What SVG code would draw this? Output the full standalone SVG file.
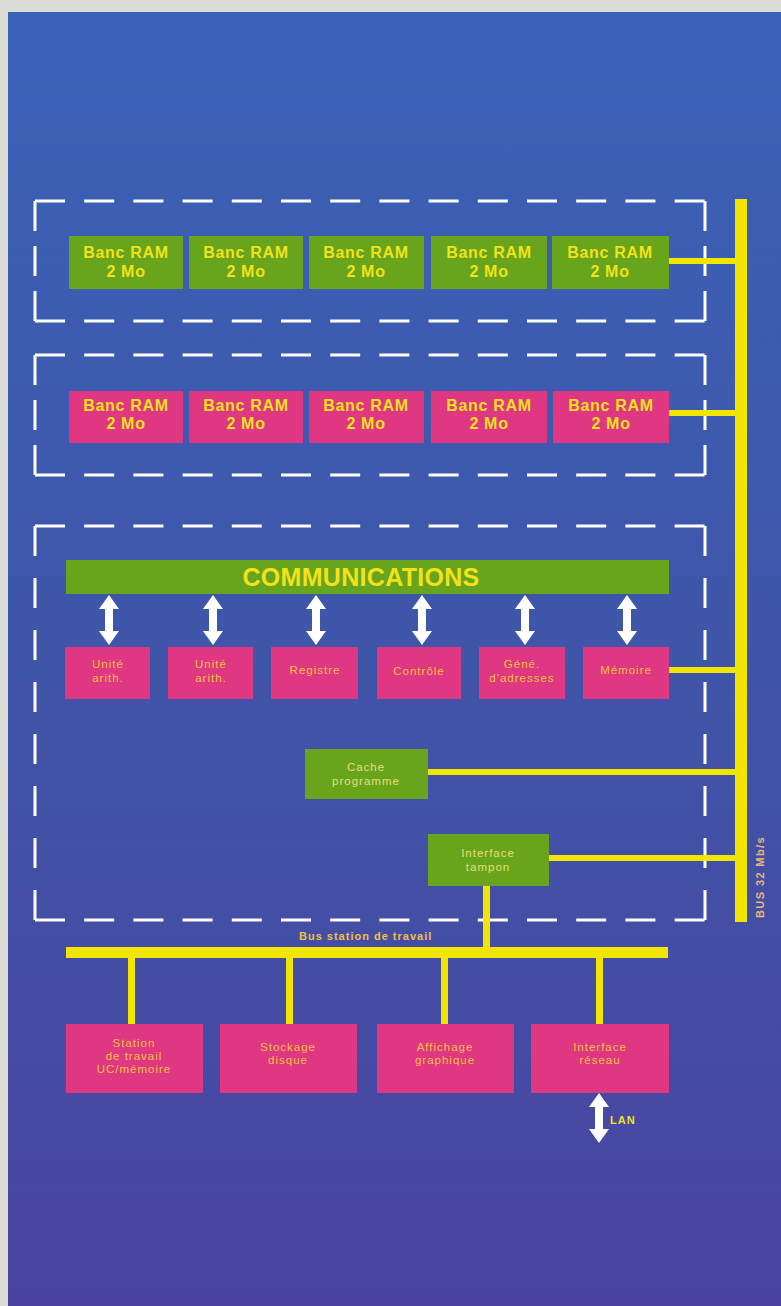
<svg xmlns="http://www.w3.org/2000/svg" xmlns:xlink="http://www.w3.org/1999/xlink" width="781" height="1306" viewBox="0 0 781 1306">
<defs>
<linearGradient id="bg" x1="0" y1="0" x2="0" y2="1">
<stop offset="0" stop-color="#3a62b7"/>
<stop offset="0.5" stop-color="#3f55a9"/>
<stop offset="1" stop-color="#4a44a0"/>
</linearGradient>
<path id="dArrow" d="M0,0 L10,14 L4,14 L4,36 L10,36 L0,50 L-10,36 L-4,36 L-4,14 L-10,14 Z" fill="#ffffff"/>
<style>
.green{fill:#68a41c}
.pink{fill:#df3782}
.bus{fill:#f2e600}
.dash{stroke:#ffffff;stroke-width:3;fill:none}
.big{font-family:"Liberation Sans",Arial,sans-serif;font-weight:bold;font-size:16px;fill:#f2e21a;text-anchor:middle;letter-spacing:0.7px}
.small{font-family:"Liberation Sans",Arial,sans-serif;font-size:11.5px;fill:#f5c23c;text-anchor:middle;letter-spacing:1px}
.gsmall{font-family:"Liberation Sans",Arial,sans-serif;font-size:11.5px;fill:#e6df7a;text-anchor:middle;letter-spacing:1px}
.lbl{font-family:"Liberation Sans",Arial,sans-serif;font-weight:bold;font-size:11px;fill:#f0c040;letter-spacing:1px}
</style>
</defs>
<rect x="0" y="0" width="781" height="1306" fill="#dcdcd6"/>
<rect x="8" y="12" width="773" height="1294" fill="url(#bg)"/>

<g id="frames">
<line class="dash" x1="35" y1="201" x2="705" y2="201" stroke-dasharray="30 19.2"/>
<line class="dash" x1="35" y1="321" x2="705" y2="321" stroke-dasharray="30 19.2"/>
<line class="dash" x1="35" y1="201" x2="35" y2="321" stroke-dasharray="30 15"/>
<line class="dash" x1="705" y1="201" x2="705" y2="321" stroke-dasharray="30 15"/>
<line class="dash" x1="35" y1="355" x2="705" y2="355" stroke-dasharray="30 19.2"/>
<line class="dash" x1="35" y1="475" x2="705" y2="475" stroke-dasharray="30 19.2"/>
<line class="dash" x1="35" y1="355" x2="35" y2="475" stroke-dasharray="30 15"/>
<line class="dash" x1="705" y1="355" x2="705" y2="475" stroke-dasharray="30 15"/>
<line class="dash" x1="35" y1="526" x2="705" y2="526" stroke-dasharray="30 19.2"/>
<line class="dash" x1="35" y1="920" x2="705" y2="920" stroke-dasharray="30 19.2"/>
<line class="dash" x1="35" y1="526" x2="35" y2="920" stroke-dasharray="30 22"/>
<line class="dash" x1="705" y1="526" x2="705" y2="920" stroke-dasharray="30 22"/>
</g>

<g id="connectors">
<rect class="bus" x="735" y="199" width="12" height="723"/>
<rect class="bus" x="669" y="258" width="66" height="6"/>
<rect class="bus" x="669" y="410" width="66" height="6"/>
<rect class="bus" x="669" y="667" width="66" height="6"/>
<rect class="bus" x="428" y="769" width="307" height="6"/>
<rect class="bus" x="549" y="855" width="186" height="6"/>
<rect class="bus" x="483" y="886" width="7" height="62"/>
<rect class="bus" x="66" y="947" width="602" height="11"/>
<rect class="bus" x="128" y="958" width="7" height="66"/>
<rect class="bus" x="286" y="958" width="7" height="66"/>
<rect class="bus" x="441" y="958" width="7" height="66"/>
<rect class="bus" x="596" y="958" width="7" height="66"/>
<use href="#dArrow" x="109" y="595"/>
<use href="#dArrow" x="213" y="595"/>
<use href="#dArrow" x="316" y="595"/>
<use href="#dArrow" x="422" y="595"/>
<use href="#dArrow" x="525" y="595"/>
<use href="#dArrow" x="627" y="595"/>
<use href="#dArrow" x="599" y="1093"/>
<text class="lbl" x="299" y="940">Bus station de travail</text>
<text class="lbl" transform="translate(764,918) rotate(-90)" style="fill:#e8b878;letter-spacing:1.4px">BUS 32 Mb/s</text>
<text class="lbl" x="610" y="1124" style="fill:#f2e21a">LAN</text>
</g>

<g id="ram-green">
<g id="g1"><rect class="green" x="69" y="236" width="114" height="53"/><text class="big" x="126" y="258">Banc RAM</text><text class="big" x="126" y="277">2 Mo</text></g>
<g id="g2"><rect class="green" x="189" y="236" width="114" height="53"/><text class="big" x="246" y="258">Banc RAM</text><text class="big" x="246" y="277">2 Mo</text></g>
<g id="g3"><rect class="green" x="309" y="236" width="115" height="53"/><text class="big" x="366" y="258">Banc RAM</text><text class="big" x="366" y="277">2 Mo</text></g>
<g id="g4"><rect class="green" x="431" y="236" width="116" height="53"/><text class="big" x="489" y="258">Banc RAM</text><text class="big" x="489" y="277">2 Mo</text></g>
<g id="g5"><rect class="green" x="552" y="236" width="117" height="53"/><text class="big" x="610" y="258">Banc RAM</text><text class="big" x="610" y="277">2 Mo</text></g>
</g>

<g id="ram-pink">
<g id="p1"><rect class="pink" x="69" y="391" width="114" height="52"/><text class="big" x="126" y="411">Banc RAM</text><text class="big" x="126" y="429">2 Mo</text></g>
<g id="p2"><rect class="pink" x="189" y="391" width="114" height="52"/><text class="big" x="246" y="411">Banc RAM</text><text class="big" x="246" y="429">2 Mo</text></g>
<g id="p3"><rect class="pink" x="309" y="391" width="115" height="52"/><text class="big" x="366" y="411">Banc RAM</text><text class="big" x="366" y="429">2 Mo</text></g>
<g id="p4"><rect class="pink" x="431" y="391" width="116" height="52"/><text class="big" x="489" y="411">Banc RAM</text><text class="big" x="489" y="429">2 Mo</text></g>
<g id="p5"><rect class="pink" x="553" y="391" width="116" height="52"/><text class="big" x="611" y="411">Banc RAM</text><text class="big" x="611" y="429">2 Mo</text></g>
</g>

<g id="communications">
<rect class="green" x="66" y="560" width="603" height="34"/>
<text x="361" y="586" font-family="'Liberation Sans',Arial,sans-serif" font-weight="bold" font-size="25" fill="#f2e21a" text-anchor="middle" letter-spacing="0.3">COMMUNICATIONS</text>
</g>

<g id="unite1"><rect class="pink" x="65" y="647" width="85" height="52"/><text class="small" x="108" y="668">Unité</text><text class="small" x="108" y="682">arith.</text></g>
<g id="unite2"><rect class="pink" x="168" y="647" width="85" height="52"/><text class="small" x="211" y="668">Unité</text><text class="small" x="211" y="682">arith.</text></g>
<g id="registre"><rect class="pink" x="271" y="647" width="87" height="52"/><text class="small" x="315" y="674">Registre</text></g>
<g id="controle"><rect class="pink" x="377" y="647" width="84" height="52"/><text class="small" x="419" y="675">Contrôle</text></g>
<g id="gene"><rect class="pink" x="479" y="647" width="86" height="52"/><text class="small" x="522" y="668">Géné.</text><text class="small" x="522" y="682">d'adresses</text></g>
<g id="memoire"><rect class="pink" x="583" y="647" width="86" height="52"/><text class="small" x="626" y="674">Mémoire</text></g>

<g id="cache"><rect class="green" x="305" y="749" width="123" height="50"/><text class="gsmall" x="366" y="771">Cache</text><text class="gsmall" x="366" y="785">programme</text></g>
<g id="interface-tampon"><rect class="green" x="428" y="834" width="121" height="52"/><text class="gsmall" x="488" y="857">Interface</text><text class="gsmall" x="488" y="871">tampon</text></g>

<g id="station"><rect class="pink" x="66" y="1024" width="137" height="69"/><text class="small" x="134" y="1047">Station</text><text class="small" x="134" y="1060">de travail</text><text class="small" x="134" y="1073">UC/mémoire</text></g>
<g id="stockage"><rect class="pink" x="220" y="1024" width="137" height="69"/><text class="small" x="288" y="1051">Stockage</text><text class="small" x="288" y="1064">disque</text></g>
<g id="affichage"><rect class="pink" x="377" y="1024" width="137" height="69"/><text class="small" x="445" y="1051">Affichage</text><text class="small" x="445" y="1064">graphique</text></g>
<g id="interface-reseau"><rect class="pink" x="531" y="1024" width="138" height="69"/><text class="small" x="600" y="1051">Interface</text><text class="small" x="600" y="1064">réseau</text></g>
</svg>
